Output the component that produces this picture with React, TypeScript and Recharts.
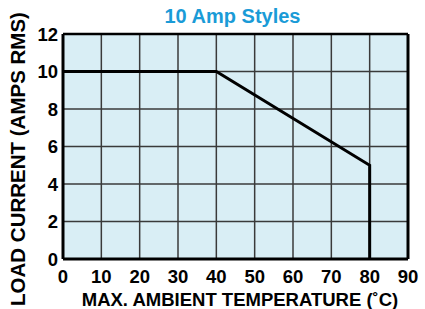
import React from 'react';
import { LineChart, Line, XAxis, YAxis, CartesianGrid, ReferenceLine, Label } from 'recharts';

const temperatures = [0, 40, 80, 80];
const loadCurrent = [10, 10, 5, 0];
const xTicks = [0, 10, 20, 30, 40, 50, 60, 70, 80, 90];
const yTicks = [0, 2, 4, 6, 8, 10, 12];
const titleText = '10 Amp Styles';
const xLabelText = 'MAX. AMBIENT TEMPERATURE (\u02DAC)';
const yLabelText = 'LOAD CURRENT (AMPS RMS)';

const data = temperatures.map((t, i) => ({ t, a: loadCurrent[i] }));

const FONT = '"Liberation Sans", Arial, Helvetica, sans-serif';

export default function App() {
  return (
    <div style={{ position: 'absolute', left: 0, top: 0, width: 425, height: 309, background: '#fff' }}>
      <div
        style={{
          position: 'absolute',
          left: 0,
          width: 465,
          top: 5,
          textAlign: 'center',
          fontFamily: FONT,
          fontWeight: 'bold',
          fontSize: 20,
          color: '#1a9bd7',
          lineHeight: '22px',
        }}
      >
        {titleText}
      </div>
      <LineChart
        width={425}
        height={309}
        data={data}
        margin={{ top: 34, right: 17, left: 0, bottom: 0 }}
        style={{ position: 'absolute', left: 0, top: 0 }}
      >
        <CartesianGrid
          fill="#d9eef5"
          stroke="#3a3a3a"
          strokeWidth={1.5}
          horizontalValues={yTicks}
          verticalValues={xTicks}
        />
        <XAxis
          type="number"
          dataKey="t"
          domain={[0, 90]}
          ticks={xTicks}
          interval={0}
          height={50}
          tickLine={false}
          tickSize={0}
          tickMargin={11}
          axisLine={{ stroke: '#000', strokeWidth: 3 }}
          tick={{ fill: '#000', fontFamily: FONT, fontWeight: 'bold', fontSize: 18.5 }}
        >
          <Label
            content={({ viewBox }: any) => (
              <text
                x={240}
                y={viewBox.y + viewBox.height - 3}
                textAnchor="middle"
                fontFamily={FONT}
                fontWeight="bold"
                fontSize={18.5}
                fill="#000"
              >
                {xLabelText}
              </text>
            )}
          />
        </XAxis>
        <YAxis
          type="number"
          domain={[0, 12]}
          ticks={yTicks}
          interval={0}
          width={63}
          tickLine={false}
          tickSize={0}
          tickMargin={5}
          axisLine={{ stroke: '#000', strokeWidth: 3 }}
          tick={{ fill: '#000', fontFamily: FONT, fontWeight: 'bold', fontSize: 18.5 }}
        >
          <Label
            content={({ viewBox }: any) => {
              const cx = 25;
              const cy = viewBox.y + viewBox.height / 2 + 12.5;
              return (
                <text
                  x={cx}
                  y={cy}
                  transform={`rotate(-90, ${cx}, ${cy})`}
                  textAnchor="middle"
                  fontFamily={FONT}
                  fontWeight="bold"
                  fontSize={20.5}
                  fill="#000"
                >
                  {yLabelText}
                </text>
              );
            }}
          />
        </YAxis>
        <ReferenceLine y={12} stroke="#000" strokeWidth={2.5} />
        <ReferenceLine x={90} stroke="#000" strokeWidth={3} />
        <Line
          type="linear"
          dataKey="a"
          stroke="#000"
          strokeWidth={3}
          dot={false}
          activeDot={false}
          isAnimationActive={false}
        />
      </LineChart>
    </div>
  );
}
